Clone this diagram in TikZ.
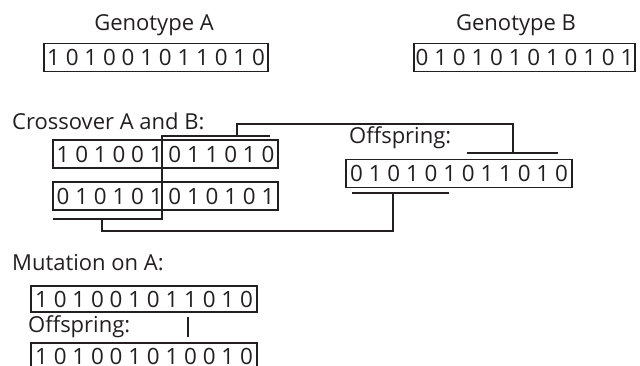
\documentclass[tikz,border=0pt]{standalone}
\usepackage{fontspec}
\setmainfont{Open Sans}
\definecolor{ink}{HTML}{231F20}
\begin{document}
\begin{tikzpicture}[x=1pt,y=-1pt,
  every node/.style={text=ink},
  gene/.style={draw=ink,line width=1.6pt,inner sep=0pt,minimum height=28pt,font=\fontsize{22.4}{24}\selectfont},
  lab/.style={inner sep=0pt,font=\fontsize{22}{24}\selectfont},
  conn/.style={draw=ink,line width=1.4pt}]
\useasboundingbox (0,0) rectangle (640,365);
\clip (0,0) rectangle (640,365);
% Genotypes
\node[lab] (labA) at (154,25) {Genotype A};
\node[gene,minimum width=224pt] (boxA) at (156,57.5) {1 0 1 0 0 1 0 1 1 0 1 0};
\node[lab] (labB) at (516,25) {Genotype B};
\node[gene,minimum width=221pt] (boxB) at (524.5,57.5) {0 1 0 1 0 1 0 1 0 1 0 1};
% Crossover
\node[lab,anchor=base west] (labC) at (12,129) {Crossover A and B:};
\node[gene,minimum width=225pt] (cA) at (165.5,154) {1 0 1 0 0 1 0 1 1 0 1 0};
\node[gene,minimum width=225pt] (cB) at (165.5,196) {0 1 0 1 0 1 0 1 0 1 0 1};
\node[lab,anchor=base west] (labO) at (349,143) {Offspring:};
\node[gene,minimum width=226pt] (off) at (459,173.5) {0 1 0 1 0 1 0 1 1 0 1 0};
% crossover brackets
\coordinate (t1) at (162,136);
\coordinate (t2) at (270,136);
\coordinate (b1) at (53,219);
\coordinate (b2) at (162,219);
\coordinate (tm) at (237,136);
\coordinate (bm) at (102,219);
\coordinate (o1) at (467,153);
\coordinate (o2) at (558,153);
\coordinate (om) at (513,153);
\coordinate (u1) at (352,193);
\coordinate (u2) at (449,193);
\coordinate (um) at (393,193);
\draw[conn] (t2) -- (t1) -- (b2) -- (b1);
\draw[conn] (o1) -- (o2);
\draw[conn] (u1) -- (u2);
\draw[conn] (tm) -- ++(0,-12) -| (om);
\draw[conn] (bm) -- ++(0,12) -| (um);
% Mutation
\node[lab,anchor=base west] (labM) at (12,270) {Mutation on A:};
\node[gene,minimum width=226pt,minimum height=26pt] (mA) at (144,299) {1 0 1 0 0 1 0 1 1 0 1 0};
\node[lab,anchor=base west] (labO2) at (28,332) {Offspring:};
\coordinate (k1) at (188,317);
\coordinate (k2) at (188,337);
\draw[conn] (k1) -- (k2);
\node[gene,minimum width=226pt,minimum height=28pt,anchor=north] (mB) at (144,342) {1 0 1 0 0 1 0 1 0 0 1 0};
\end{tikzpicture}
\end{document}
